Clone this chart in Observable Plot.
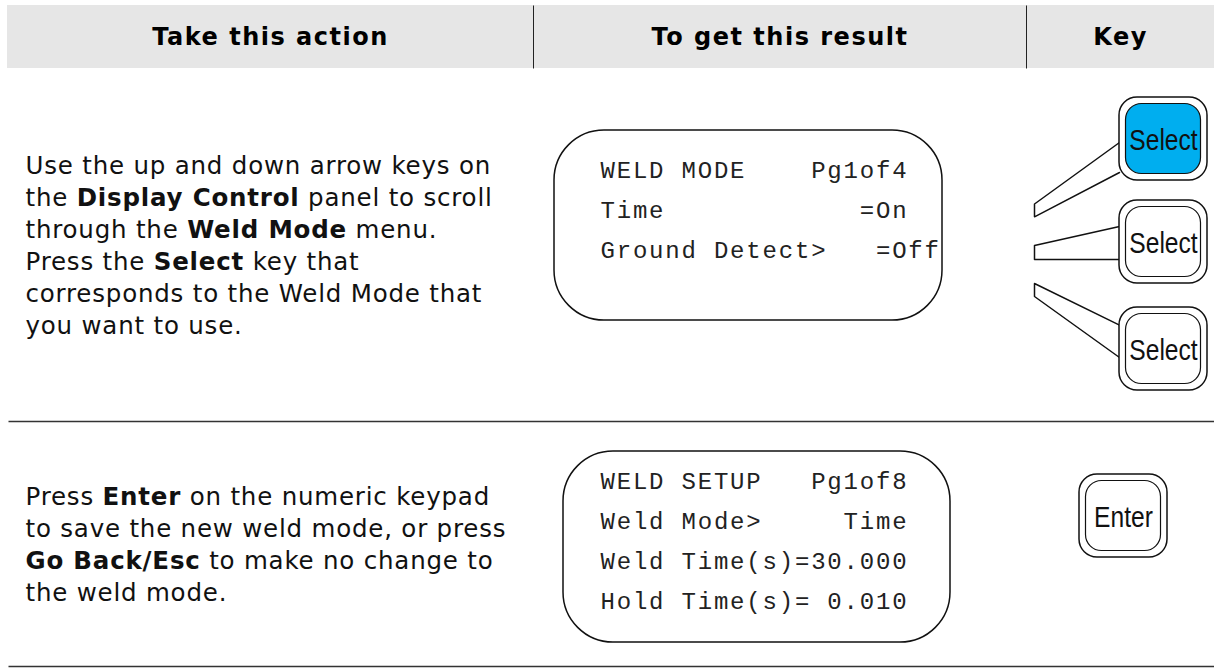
<!DOCTYPE html>
<html><head><meta charset="utf-8">
<script src="https://cdn.jsdelivr.net/npm/d3@7"></script>
<script src="https://cdn.jsdelivr.net/npm/@observablehq/plot@0.6"></script>
<style>
html,body{margin:0;padding:0;background:#fff;}
svg text{white-space:pre;}
</style></head><body><div id="chart"></div>
<script>
// ---------- content ----------
const headers = ["Take this action", "To get this result", "Key"];
// each line: list of [text, bold]
const row1Action = [
  [["Use the up and down arrow keys on", false]],
  [["the ", false], ["Display Control", true], [" panel to scroll", false]],
  [["through the ", false], ["Weld Mode", true], [" menu.", false]],
  [["Press the ", false], ["Select", true], [" key that", false]],
  [["corresponds to the Weld Mode that", false]],
  [["you want to use.", false]]
];
const row2Action = [
  [["Press ", false], ["Enter", true], [" on the numeric keypad", false]],
  [["to save the new weld mode, or press", false]],
  [["Go Back/Esc", true], [" to make no change to", false]],
  [["the weld mode.", false]]
];
const row1Display = ["WELD MODE    Pg1of4", "Time            =On", "Ground Detect>   =Off"];
const row2Display = ["WELD SETUP   Pg1of8", "Weld Mode>     Time", "Weld Time(s)=30.000", "Hold Time(s)= 0.010"];
const row1Keys = ["Select", "Select", "Select"];
const row1KeyLit = [true, false, false];
const row2Keys = ["Enter"];

// ---------- layout ----------
const W = 1214, H = 668;
const colDiv = [533, 1026];
const headTop = 5, headBot = 68, headLeft = 7, headBase = 44;
const HEAD_FS = 24, HEAD_LS = 1.5;
const sepY = [421, 666];
const ACT_FS = 24.5, ACT_LS = 0.8, ACT_FONT = "DejaVu Sans", actX = 25;
const MONO_FS = 24, MONO_LS = 1.8, MONO_FONT = "Liberation Mono";
const KEY_FS = 30, KEY_FONT = "Liberation Sans", KEY_SQUEEZE = 0.82;
const rows = [
  {action: row1Action, actBase: 173, actStep: 32,
   lcd: {x1: 554, x2: 942, y1: 130, y2: 320, tx: 600, base: 177, step: 40, lines: row1Display}},
  {action: row2Action, actBase: 504, actStep: 32,
   lcd: {x1: 563, x2: 950, y1: 451, y2: 642, tx: 600, base: 488, step: 40, lines: row2Display}}
];
const keyW = 88, keyH = 83, inset = 6.5;
const selX = 1119, selTops = [97, 200, 307];
const enterX = 1079, enterTop = 474;
const fanX = 1034;
// callout attach offsets and fan-end offsets, relative to each key's top
const fans = [
  {a1: 45, a2: 75, f1: 106.5, f2: 119.3},
  {a1: 26, a2: 59, f1: 45, f2: 59},
  {a1: 17.6, a2: 50, f1: -24, f2: -11}
];

// ---------- derived mark data ----------
const ctx = document.createElement("canvas").getContext("2d");
function tw(t, bold) {
  ctx.font = `${bold ? "bold" : "normal"} ${ACT_FS}px "${ACT_FONT}"`;
  return ctx.measureText(t).width + t.length * ACT_LS;
}
const actSegs = [];
rows.forEach(r => r.action.forEach((line, i) => {
  let x = actX;
  line.forEach(([t, b]) => { actSegs.push({text: t, bold: b, x, y: r.actBase + i * r.actStep}); x += tw(t, b); });
}));
const lcdBoxes = rows.map(r => r.lcd);
const lcdText = rows.flatMap(r => r.lcd.lines.map((t, i) => ({text: t, x: r.lcd.tx, y: r.lcd.base + i * r.lcd.step})));
const keys = [
  ...row1Keys.map((k, i) => ({label: k, lit: row1KeyLit[i], x: selX, y: selTops[i]})),
  ...row2Keys.map(k => ({label: k, lit: false, x: enterX, y: enterTop}))
];
const fanPts = selTops.flatMap((t, i) => {
  const f = fans[i];
  return [
    {k: i, x: selX, y: t + f.a1}, {k: i, x: fanX, y: t + f.f1},
    {k: i, x: fanX, y: t + f.f2}, {k: i, x: selX, y: t + f.a2}
  ];
});
const edges = [headLeft, ...colDiv, W];
const headerCells = headers.map((h, i) => ({text: h, x: (edges[i] + edges[i + 1]) / 2, y: headBase}));

const chart = Plot.plot({
  width: W, height: H, margin: 0,
  x: {domain: [0, W], range: [0, W], axis: null},
  y: {domain: [0, H], range: [0, H], axis: null},
  marks: [
    Plot.rect([{x1: headLeft, x2: W, y1: headTop, y2: headBot}], {x1: "x1", x2: "x2", y1: "y1", y2: "y2", fill: "#e6e6e6"}),
    Plot.link(colDiv, {x1: d => d, x2: d => d, y1: () => headTop, y2: () => headBot, stroke: "#222", strokeWidth: 1}),
    Plot.text(headerCells, {x: "x", y: "y", text: "text", fontFamily: "DejaVu Sans Bold", fontWeight: "bold", fontSize: HEAD_FS, fill: "#000", lineAnchor: "bottom"}),
    Plot.link(sepY, {x1: () => 8, x2: () => W, y1: d => d, y2: d => d, stroke: "#333", strokeWidth: 1.6}),
    Plot.text(actSegs.filter(d => !d.bold), {x: "x", y: "y", text: "text", textAnchor: "start", lineAnchor: "bottom", fontFamily: ACT_FONT, fontSize: ACT_FS, fill: "#111"}),
    Plot.text(actSegs.filter(d => d.bold), {x: "x", y: "y", text: "text", textAnchor: "start", lineAnchor: "bottom", fontFamily: ACT_FONT, fontWeight: "bold", fontSize: ACT_FS, fill: "#111"}),
    Plot.rect(lcdBoxes, {x1: "x1", x2: "x2", y1: "y1", y2: "y2", rx: 50, ry: 50, fill: "none", stroke: "#111", strokeWidth: 1.5}),
    Plot.text(lcdText, {x: "x", y: "y", text: "text", textAnchor: "start", lineAnchor: "bottom", fontFamily: MONO_FONT, fontSize: MONO_FS, fill: "#222"}),
    Plot.line(fanPts, {x: "x", y: "y", z: "k", stroke: "#111", strokeWidth: 1.5, curve: "linear"}),
    Plot.rect(keys, {x1: "x", x2: d => d.x + keyW, y1: "y", y2: d => d.y + keyH, rx: 18, ry: 18, fill: "white", stroke: "#111", strokeWidth: 1.5}),
    Plot.rect(keys, {x1: d => d.x + inset, x2: d => d.x + keyW - inset, y1: d => d.y + inset, y2: d => d.y + keyH - inset, rx: 16, ry: 16, fill: d => d.lit ? "#00aeef" : "white", stroke: "#111", strokeWidth: 1.2}),
    Plot.text(keys, {x: d => d.x + keyW / 2, y: d => d.y + 52, text: "label", lineAnchor: "bottom", fontFamily: KEY_FONT, fontSize: KEY_FS, fill: "#111"})
  ]
});
// letter pitch tweaks
chart.querySelectorAll(`g[font-family="${MONO_FONT}"]`).forEach(g => g.setAttribute("letter-spacing", MONO_LS));
chart.querySelectorAll(`g[font-family="${ACT_FONT}"]`).forEach(g => g.setAttribute("letter-spacing", ACT_LS));
chart.querySelectorAll(`g[font-family="DejaVu Sans Bold"]`).forEach(g => { g.setAttribute("font-family", "DejaVu Sans"); g.setAttribute("letter-spacing", HEAD_LS); });
// condensed key captions
chart.querySelectorAll(`g[font-family="${KEY_FONT}"] text`).forEach(t => t.setAttribute("transform", (t.getAttribute("transform") || "") + ` scale(${KEY_SQUEEZE},1)`));
document.getElementById("chart").appendChild(chart);
</script></body></html>
